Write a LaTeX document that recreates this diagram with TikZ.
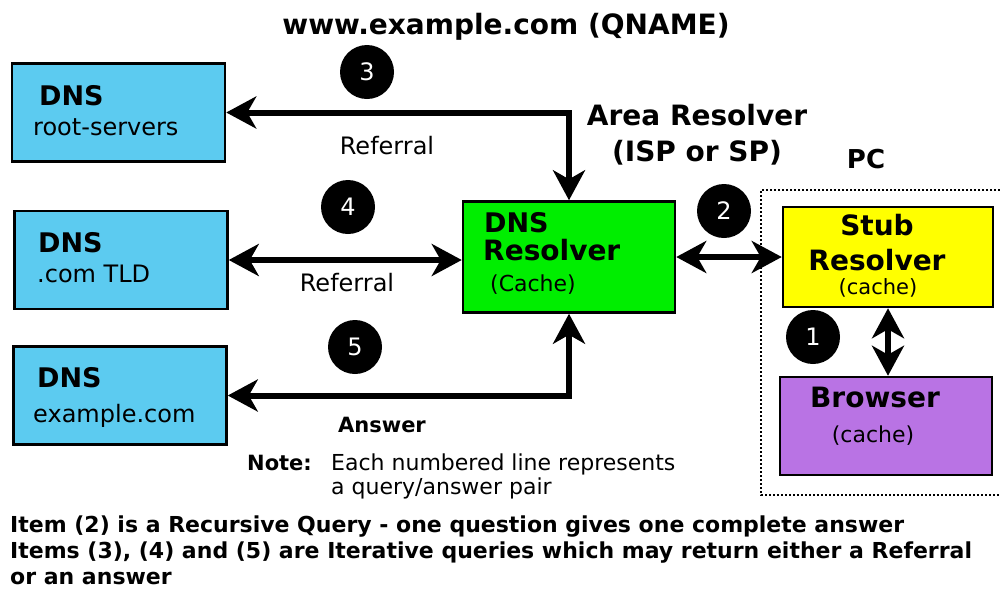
\documentclass[tikz,border=0pt]{standalone}
\usepackage{fontspec}
\setmainfont{DejaVu Sans}
\usetikzlibrary{arrows.meta}
\definecolor{dnsblue}{RGB}{92,203,240}
\definecolor{resgreen}{RGB}{0,238,0}
\definecolor{stubyellow}{RGB}{255,255,0}
\definecolor{browserpurple}{RGB}{185,115,228}
\newcommand{\fsz}[1]{\fontsize{#1}{#1}\selectfont}

\begin{document}
\begin{tikzpicture}[x=1pt,y=-1pt,
  box/.style={draw=black, line width=2.5pt, minimum width=213pt, minimum height=98pt, inner sep=0pt},
  num/.style={circle, fill=black, minimum size=54pt, inner sep=0pt, text=white, font=\fsz{24}},
  link/.style={line width=6pt, {Stealth[length=30pt,width=32pt,inset=9pt]}-{Stealth[length=30pt,width=32pt,inset=9pt]}},
  label/.style={inner sep=0pt, anchor=base},
  lbl/.style={inner sep=0pt, anchor=base west}]
  \useasboundingbox (0,0) rectangle (1000,590);
  % name servers
  \node[box, fill=dnsblue] (root) at (118.5,112.5) {};
  \node[lbl, font=\fsz{27}\bfseries] (rootname) at (39,105) {DNS};
  \node[lbl, font=\fsz{24}] (rootsub) at (33,135) {root-servers};
  \node[box, fill=dnsblue] (tld) at (121,260) {};
  \node[lbl, font=\fsz{27}\bfseries] (tldname) at (38,252) {DNS};
  \node[lbl, font=\fsz{24}] (tldsub) at (37,282) {.com TLD};
  \node[box, fill=dnsblue] (exam) at (120,395.5) {};
  \node[lbl, font=\fsz{27}\bfseries] (examname) at (37,387) {DNS};
  \node[lbl, font=\fsz{24}] (examsub) at (33,422) {example.com};
  % area resolver
  \node[box, fill=resgreen, minimum width=212pt, minimum height=111pt] (res) at (569,257) {};
  \node[lbl, font=\fsz{27}\bfseries] (resname) at (484,232) {DNS};
  \node[lbl, font=\fsz{28}\bfseries] (restype) at (483,260) {Resolver};
  \node[lbl, font=\fsz{22}] (rescache) at (490,291) {(Cache)};
  % the PC
  \draw[line width=2pt, dash pattern=on 2pt off 2pt] (1000,190) -- (761,190) -- (761,495) -- (1000,495);
  \node[box, fill=stubyellow, minimum width=210pt, minimum height=100pt] (stub) at (888,257) {};
  \node[label, font=\fsz{28}\bfseries] (stubname) at (877,235) {Stub};
  \node[label, font=\fsz{28}\bfseries] (stubtype) at (877,270) {Resolver};
  \node[label, font=\fsz{21}] (stubcache) at (878,294) {(cache)};
  \node[box, fill=browserpurple, minimum width=212pt, minimum height=98pt] (browser) at (886,426) {};
  \node[label, font=\fsz{28}\bfseries] (browsername) at (875,407) {Browser};
  \node[label, font=\fsz{22}] (browsercache) at (873,442) {(cache)};
  % queries
  \draw[link] (root.east) -- (res.north |- root.east) -- (res.north);
  \draw[link] (tld.east) -- (res.west |- tld.east);
  \draw[link] (exam.east) -- (res.south |- exam.east) -- (res.south);
  \draw[link] (res.east) -- (stub.west);
  \draw[link] (stub.south) -- (stub.south |- browser.north);
  \node[num] (c3) at (367,72) {3};
  \node[num] (c4) at (348,207) {4};
  \node[num] (c5) at (355,347) {5};
  \node[num] (c2) at (724,211) {2};
  \node[num] (c1) at (813,337) {1};
  % labels
  \node[label, font=\fsz{28}\bfseries] (qname) at (506,34) {www.example.com (QNAME)};
  \node[label, font=\fsz{28}\bfseries] (area) at (697,125) {Area Resolver};
  \node[label, font=\fsz{28}\bfseries] (isp) at (697,161) {(ISP or SP)};
  \node[label, font=\fsz{26}\bfseries] (pc) at (866,168) {PC};
  \node[label, font=\fsz{24}] (ref3) at (387,154) {Referral};
  \node[label, font=\fsz{24}] (ref4) at (347,291) {Referral};
  \node[label, font=\fsz{21}\bfseries] (ans5) at (382,432) {Answer};
  % notes
  \node[lbl, font=\fsz{21}\bfseries] (note) at (247,470) {Note:};
  \node[lbl, font=\fsz{22}] (notetext) at (331,470) {Each numbered line represents};
  \node[lbl, font=\fsz{22}] (notetext2) at (331,494) {a query/answer pair};
  \node[lbl, font=\fsz{22}\bfseries] (item2) at (10,532) {Item (2) is a Recursive Query - one question gives one complete answer};
  \node[lbl, font=\fsz{22}\bfseries] (items) at (10,558) {Items (3), (4) and (5) are Iterative queries which may return either a Referral};
  \node[lbl, font=\fsz{22}\bfseries] (items2) at (10,584) {or an answer};
\end{tikzpicture}
\end{document}
